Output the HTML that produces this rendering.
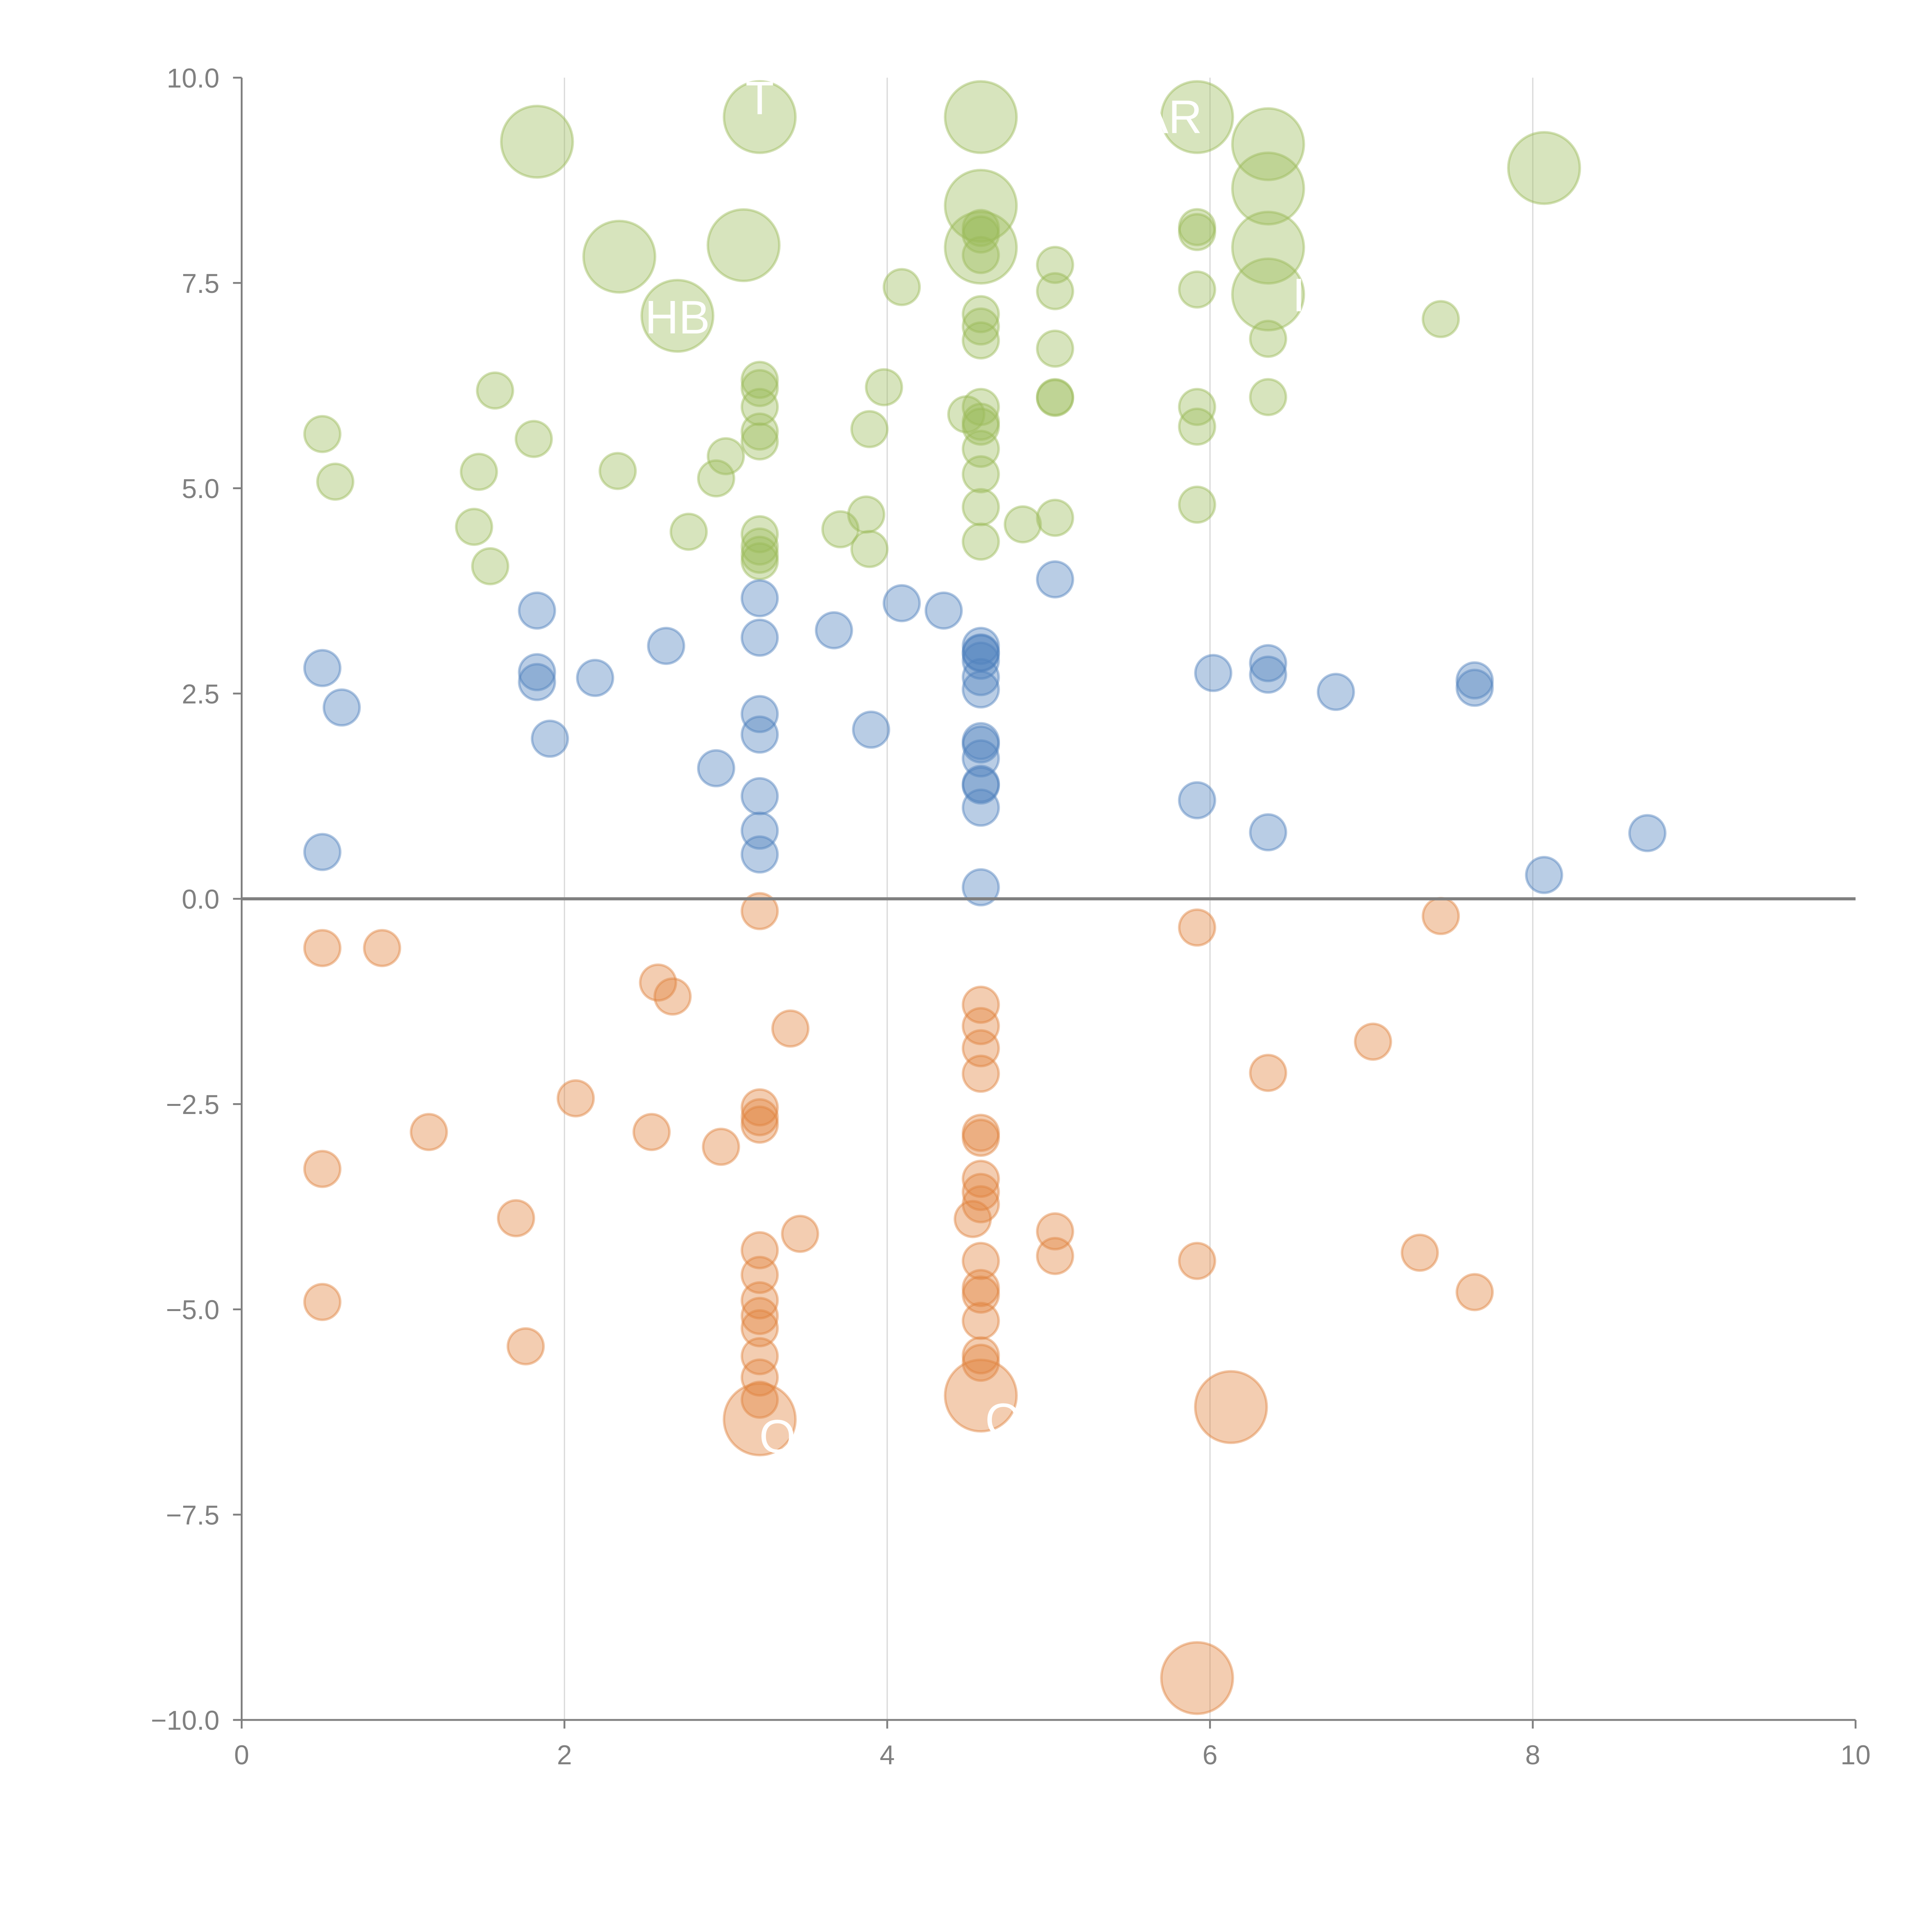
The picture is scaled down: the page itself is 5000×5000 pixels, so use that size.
<!DOCTYPE html>
<html><head><meta charset="utf-8">
<style>
html,body{margin:0;padding:0;background:#fff;}
svg{display:block;}
text{font-family:"Liberation Sans",sans-serif;}
</style></head>
<body>
<svg id="chart" width="5000" height="5000" viewBox="0 0 1567 1567" xmlns="http://www.w3.org/2000/svg">
<g id="grid"></g>
<g id="marks"></g>
<g id="axes"></g>
<g id="labels"></g>
</svg>
<script>
const xTicks = [0, 2, 4, 6, 8, 10];
const yTicks = [-10, -7.5, -5, -2.5, 0, 2.5, 5, 7.5, 10];
const yTickLabels = ["\u221210.0", "\u22127.5", "\u22125.0", "\u22122.5", "0.0", "2.5", "5.0", "7.5", "10.0"];

// green series (positive, high)
const greenX = [1.83,3.21,4.58,5.92,6.36,8.07,2.34,3.11,4.58,4.58,6.36,6.36,6.36,2.70,
 0.50,0.58,1.57,1.81,1.47,1.44,1.54,2.33,2.77,2.94,3.00,3.21,3.21,3.21,3.21,3.21,3.21,3.21,3.21,3.21,
 3.71,3.87,3.89,3.89,3.98,4.09,4.49,4.58,4.58,4.58,4.58,4.58,4.58,4.58,4.58,4.58,4.58,4.58,4.58,4.58,
 4.84,5.04,5.04,5.04,5.04,5.04,5.04,5.92,5.92,5.92,5.92,5.92,5.92,6.36,6.36,7.43];
const greenY = [9.22,9.52,9.52,9.52,9.19,8.90,7.82,7.96,8.44,7.93,8.65,7.93,7.36,7.10,
 5.66,5.08,6.19,5.60,5.20,4.53,4.05,5.21,4.47,5.12,5.39,6.32,6.22,5.99,5.69,5.57,4.44,4.29,4.19,4.11,
 4.50,4.68,4.26,5.72,6.23,7.45,5.90,8.17,8.09,7.84,7.12,6.97,6.80,5.99,5.81,5.75,5.48,5.17,4.77,4.35,
 4.56,7.72,7.40,6.70,6.11,6.10,4.64,8.18,8.12,7.42,5.99,5.75,4.80,6.82,6.11,7.06];
const greenSize = [4,4,4,4,4,4,4,4,4,4,4,4,4,4,
 1,1,1,1,1,1,1,1,1,1,1,1,1,1,1,1,1,1,1,1,
 1,1,1,1,1,1,1,1,1,1,1,1,1,1,1,1,1,1,1,1,
 1,1,1,1,1,1,1,1,1,1,1,1,1,1,1,1];

// blue series
const blueX = [0.50,0.62,0.50,1.83,1.83,1.83,1.91,2.19,2.63,2.94,3.21,3.21,3.21,3.21,3.21,3.21,3.21,
 3.67,3.90,4.09,4.35,4.58,4.58,4.58,4.58,4.58,4.58,4.58,4.58,4.58,4.58,4.58,4.58,4.58,
 5.04,5.92,6.02,6.36,6.36,6.36,6.78,7.64,7.64,8.07,8.71];
const blueY = [2.81,2.33,0.57,3.51,2.76,2.64,1.95,2.69,3.08,1.59,3.66,3.18,2.25,2.00,1.25,0.83,0.54,
 3.27,2.06,3.60,3.51,3.08,2.99,2.90,2.70,2.55,1.92,1.88,1.71,1.40,1.38,1.11,0.14,3.00,
 3.89,1.20,2.75,2.87,2.73,0.81,2.52,2.66,2.57,0.29,0.80];
const blueSize = blueX.map(() => 1);

// orange series
const orangeX = [0.50,0.87,2.58,2.67,3.21,3.40,2.07,1.16,2.54,2.97,0.50,1.70,0.50,1.76,3.21,3.21,3.21,3.46,
 3.21,3.21,3.21,3.21,3.21,3.21,3.21,3.21,3.21,
 4.58,4.58,4.58,4.58,4.58,4.58,4.53,4.58,4.58,4.58,4.58,4.58,4.58,4.58,4.58,4.58,4.58,
 5.04,5.04,5.92,5.92,5.92,6.13,6.36,7.01,7.30,7.43,7.64];
const orangeY = [-0.60,-0.60,-1.02,-1.19,-0.15,-1.58,-2.43,-2.84,-2.84,-3.02,-3.29,-3.89,-4.91,-5.45,-2.54,-2.66,-2.75,-4.08,
 -4.28,-4.58,-4.89,-5.08,-5.23,-5.57,-5.83,-6.10,-6.34,
 -1.29,-1.55,-1.82,-2.13,-2.85,-2.91,-3.90,-3.41,-3.57,-3.72,-4.41,-4.74,-4.82,-5.14,-5.56,-5.65,-6.05,
 -4.05,-4.35,-0.35,-4.41,-9.49,-6.19,-2.12,-1.74,-4.31,-0.21,-4.79];
const orangeSize = [1,1,1,1,1,1,1,1,1,1,1,1,1,1,1,1,1,1,
 1,1,1,1,1,1,1,1,4,
 1,1,1,1,1,1,1,1,1,1,1,1,1,1,1,1,4,
 1,1,1,1,4,4,1,1,1,1,1];

const NS = "http://www.w3.org/2000/svg";
const X0 = 196, X1 = 1505, Y0 = 1395, Y1 = 63;
function xs(v){ return X0 + (v - 0) / 10 * (X1 - X0); }
function ys(v){ return Y0 - (v + 10) / 20 * (Y0 - Y1); }
function rs(s){ return 14.5 * Math.sqrt(s); }
function mk(tag, attrs, parent){
  const e = document.createElementNS(NS, tag);
  for (const k in attrs) e.setAttribute(k, attrs[k]);
  parent.appendChild(e); return e;
}
const grid = document.getElementById('grid');
const axes = document.getElementById('axes');
const marks = document.getElementById('marks');
const labels = document.getElementById('labels');

xTicks.forEach(t => {
  if (t > 0 && t < 10) {
    const g = mk('line', {x1: xs(t), x2: xs(t), y1: Y1, y2: Y0, stroke: '#d9d9d9', 'stroke-width': 1}, grid);
    
    
  }
  const tk = mk('line', {x1: xs(t), x2: xs(t), y1: Y0, y2: Y0 + 7, stroke: '#808080', 'stroke-width': 1.5}, axes);
  
  
  const tl = mk('text', {x: xs(t), y: Y0 + 36, 'text-anchor': 'middle', 'font-size': 22, fill: '#808080'}, axes);
  tl.textContent = String(t);
  
  
});
yTicks.forEach((t, i) => {
  const tk = mk('line', {x1: X0 - 7, x2: X0, y1: ys(t), y2: ys(t), stroke: '#808080', 'stroke-width': 1.5}, axes);
  
  
  const tl = mk('text', {x: X0 - 18, y: ys(t) + 8, 'text-anchor': 'end', 'font-size': 22, fill: '#808080'}, axes);
  tl.textContent = yTickLabels[i];
  
  
});
const xa = mk('line', {x1: X0, x2: X1, y1: Y0, y2: Y0, stroke: '#808080', 'stroke-width': 1.5}, axes);


const ya = mk('line', {x1: X0, x2: X0, y1: Y1, y2: Y0, stroke: '#808080', 'stroke-width': 1.5}, axes);


const zl = mk('line', {x1: X0, x2: X1, y1: ys(0), y2: ys(0), stroke: '#808080', 'stroke-width': 2.5}, axes);



function drawSeries(xsArr, ysArr, sz, color, name){
  xsArr.forEach((v, i) => {
    const c = mk('circle', {cx: xs(v), cy: ys(ysArr[i]), r: rs(sz[i]), fill: color, 'fill-opacity': 0.4, stroke: color, 'stroke-opacity': 0.45, 'stroke-width': 2}, marks);
    
    
  });
}
drawSeries(greenX, greenY, greenSize, '#9bbb59', 'green-bubble');
drawSeries(blueX, blueY, blueSize, '#4f81bd', 'blue-bubble');
drawSeries(orangeX, orangeY, orangeSize, '#e0823d', 'orange-bubble');

const labelText = ["HB", "AR", "T", "O", "O", "I"];
const labelX = [2.70, 5.75, 3.21, 4.72, 3.32, 6.55];
const labelY = [7.08, 9.52, 9.75, -6.35, -6.55, 7.35];
labelText.forEach((t, i) => {
  const l = mk('text', {x: xs(labelX[i]), y: ys(labelY[i]) + 13, 'text-anchor': 'middle', 'font-size': 38, fill: '#ffffff'}, labels);
  l.textContent = t;
  
  
});
</script>
</body></html>
